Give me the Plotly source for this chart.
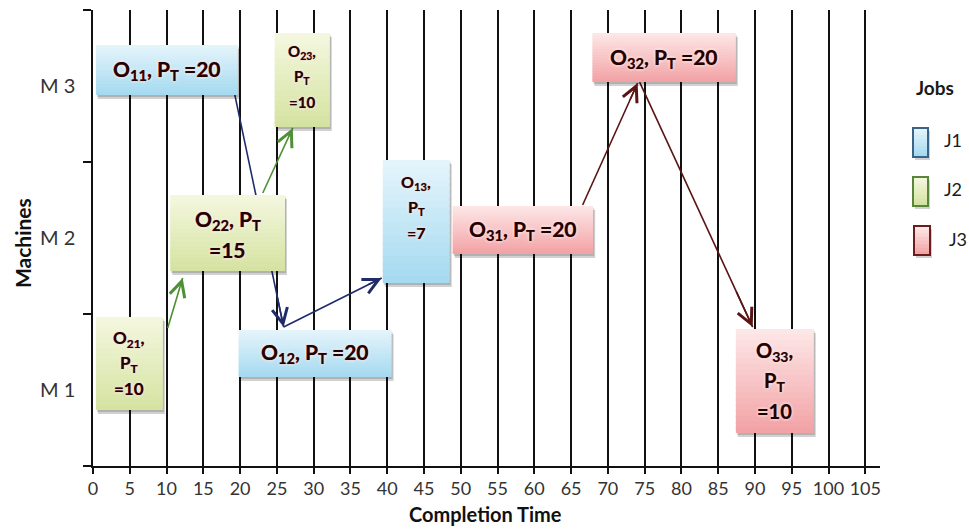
import plotly.graph_objects as go

# ---------------- data ----------------
ops = ["11", "12", "13", "21", "22", "23", "31", "32", "33"]
jobs = ["J1", "J1", "J1", "J2", "J2", "J2", "J3", "J3", "J3"]
machine = [3, 1, 2, 1, 2, 3, 2, 3, 1]
start = [0.4, 19.8, 39.4, 0.4, 10.5, 24.7, 48.9, 67.9, 87.4]
end = [19.7, 40.6, 48.5, 9.5, 26.1, 32.2, 68.0, 87.4, 98.0]
pt = [20, 20, 7, 10, 15, 10, 20, 20, 10]

# precedence arrows (tail -> head) in axis units
arrow_job = ["J2", "J2", "J1", "J1", "J3", "J3"]
arrow_x0 = [10.16, 23.08, 19.26, 25.92, 66.57, 74.32]
arrow_y0 = [0.908, 1.796, 2.447, 0.914, 1.717, 2.526]
arrow_x1 = [12.19, 27.16, 25.92, 39.25, 74.05, 89.69]
arrow_y1 = [1.237, 2.224, 0.914, 1.237, 2.520, 0.914]

x_ticks = list(range(0, 106, 5))
machine_labels = ["M 1", "M 2", "M 3"]
legend_jobs = ["J1", "J2", "J3"]

# ---------------- styling ----------------
FONT = "Lato"
box_top = [2.770, 0.895, 2.013, 0.980, 1.783, 2.849, 1.711, 2.849, 0.901]
box_bot = [2.441, 0.586, 1.204, 0.368, 1.283, 2.230, 1.395, 2.526, 0.217]
# (layout type, font size, line spacing px, vertical offset px)
txt_style = [(1, 21, 0, 0), (1, 21, 0, 0), (3, 16, 25, -14), (3, 17, 25, 0),
             (2, 21, 30, 2), (3, 15, 25, -3), (1, 21, 0, 0), (1, 21, 0, 0),
             (3, 20, 30, 0)]
grad = {"J1": ("#e4f4fb", "#a6daf0"), "J2": ("#f4f7de", "#d5e3a2"), "J3": ("#fde6e6", "#f2a3a6")}
border = {"J1": "#3a6588", "J2": "#57873a", "J3": "#6a1d1d"}
arrow_col = {"J1": "#1f2b6b", "J2": "#4f8f35", "J3": "#5a1414"}
TXT_COL = "#1e0303"
TXT_SHADOW = "0px 0px 1px #b83a3a, 0px 0px 3px #ffffff, 0px 0px 3px #ffffff"

L, R, T, B = 93, 89, 10, 63
W, H = 969, 529
PW, PH = W - L - R, H - T - B


def px_x(px):
    return (px - L) / PW


def px_y(py):
    return (H - B - py) / PH


def hex2rgb(h):
    h = h.lstrip("#")
    return tuple(int(h[i:i + 2], 16) for i in (0, 2, 4))


def lerp(c1, c2, t):
    a, b = hex2rgb(c1), hex2rgb(c2)
    return "rgb(%d,%d,%d)" % tuple(round(a[i] + (b[i] - a[i]) * t) for i in range(3))


def grad_rect(shapes, x0, x1, y0, y1, c_top, c_bot, xref="x", yref="y", n=18):
    for k in range(n):
        ya = y1 - (y1 - y0) * k / n
        yb = y1 - (y1 - y0) * (k + 1) / n
        yb2 = yb - (y1 - y0) * 0.02 if k < n - 1 else yb
        shapes.append(dict(type="rect", xref=xref, yref=yref, x0=x0, x1=x1, y0=yb2, y1=ya,
                           fillcolor=lerp(c_top, c_bot, k / (n - 1)), line=dict(width=0),
                           layer="above"))


fig = go.Figure()
shapes = []
annotations = []

# arrow lines (below boxes)
for i in range(len(arrow_job)):
    fig.add_trace(go.Scatter(x=[arrow_x0[i], arrow_x1[i]], y=[arrow_y0[i], arrow_y1[i]],
                             mode="lines", line=dict(color=arrow_col[arrow_job[i]], width=1.6),
                             hoverinfo="skip", showlegend=False))
    t = 0.85
    annotations.append(dict(x=arrow_x1[i], y=arrow_y1[i], xref="x", yref="y",
                            ax=arrow_x0[i] + (arrow_x1[i] - arrow_x0[i]) * t,
                            ay=arrow_y0[i] + (arrow_y1[i] - arrow_y0[i]) * t,
                            axref="x", ayref="y", text="", showarrow=True, arrowhead=5,
                            arrowsize=1.9, arrowwidth=1.6, arrowcolor=arrow_col[arrow_job[i]],
                            standoff=0))

# boxes
xu = 107 / PW
yu = 3 / PH
for i in range(len(ops)):
    x0, x1, y0, y1 = start[i], end[i], box_bot[i], box_top[i]
    shapes.append(dict(type="rect", xref="x", yref="y", x0=x0 + 2 * xu, x1=x1 + 2 * xu,
                       y0=y0 - 4 * yu, y1=y1 - 4 * yu, fillcolor="rgba(0,0,0,0.18)",
                       line=dict(width=0), layer="above"))
    shapes.append(dict(type="rect", xref="x", yref="y", x0=x0 + 1 * xu, x1=x1 + 1 * xu,
                       y0=y0 - 2 * yu, y1=y1 - 2 * yu, fillcolor="rgba(0,0,0,0.15)",
                       line=dict(width=0), layer="above"))
    c_top, c_bot = grad[jobs[i]]
    grad_rect(shapes, x0, x1, y0, y1, c_top, c_bot)

    kind, fs, sp, off = txt_style[i]
    o = "O<sub>%s</sub>" % ops[i]
    p = "P<sub>T</sub>"
    if kind == 1:
        lines = ["%s, %s =%d" % (o, p, pt[i])]
    elif kind == 2:
        lines = ["%s, %s" % (o, p), "=%d" % pt[i]]
    else:
        lines = ["%s," % o, p, "=%d" % pt[i]]
    n = len(lines)
    cx, cy = (x0 + x1) / 2, (y0 + y1) / 2
    for k, ln in enumerate(lines):
        annotations.append(dict(x=cx, y=cy, xref="x", yref="y", text="<b>%s</b>" % ln,
                                showarrow=False, xanchor="center", yanchor="middle",
                                yshift=-(off + (k - (n - 1) / 2) * sp),
                                font=dict(family=FONT, size=fs, color=TXT_COL,
                                          shadow=TXT_SHADOW)))

# legend
annotations.append(dict(x=px_x(935), y=px_y(88), xref="paper", yref="paper", text="<b>Jobs</b>",
                        showarrow=False, xanchor="center", yanchor="middle",
                        font=dict(family=FONT, size=19, color="#1a1a1a")))
leg_box = [(913, 928, 128, 157), (913, 928, 177, 206), (914, 930, 226, 255)]
leg_txt = [(953, 140), (953, 189), (958, 239)]
for j, job in enumerate(legend_jobs):
    bx0, bx1, by0, by1 = leg_box[j]
    c_top, c_bot = grad[job]
    shapes.append(dict(type="rect", xref="paper", yref="paper", x0=px_x(bx0 + 2), x1=px_x(bx1 + 2),
                       y0=px_y(by1 + 3), y1=px_y(by0 + 3), fillcolor="rgba(0,0,0,0.18)",
                       line=dict(width=0), layer="above"))
    grad_rect(shapes, px_x(bx0), px_x(bx1), px_y(by1), px_y(by0), c_top, c_bot,
              xref="paper", yref="paper", n=8)
    shapes.append(dict(type="rect", xref="paper", yref="paper", x0=px_x(bx0), x1=px_x(bx1),
                       y0=px_y(by1), y1=px_y(by0), fillcolor="rgba(0,0,0,0)",
                       line=dict(width=2, color=border[job]), layer="above"))
    tx, ty = leg_txt[j]
    annotations.append(dict(x=px_x(tx), y=px_y(ty), xref="paper", yref="paper", text=job,
                            showarrow=False, xanchor="center", yanchor="middle",
                            font=dict(family=FONT, size=18, color="#1a1a1a")))

# axis titles
annotations.append(dict(x=px_x(485), y=px_y(514), xref="paper", yref="paper",
                        text="<b>Completion Time</b>", showarrow=False, xanchor="center",
                        yanchor="middle", font=dict(family=FONT, size=20, color="#111")))
annotations.append(dict(x=px_x(22), y=px_y(243), xref="paper", yref="paper",
                        text="<b>Machines</b>", showarrow=False, xanchor="center",
                        yanchor="middle", textangle=-90,
                        font=dict(family=FONT, size=21, color="#111")))

fig.update_layout(
    width=W, height=H,
    margin=dict(l=L, r=R, t=T, b=B),
    paper_bgcolor="white", plot_bgcolor="white",
    showlegend=False,
    shapes=shapes, annotations=annotations,
    xaxis=dict(range=[0, 107], tickvals=x_ticks, ticktext=[str(v) for v in x_ticks],
               ticks="outside", ticklen=6, tickwidth=1.5, tickcolor="#111",
               showgrid=True, gridcolor="#111", gridwidth=1.5,
               showline=True, linecolor="#111", linewidth=1.5, zeroline=False,
               tickfont=dict(family=FONT, size=18, color="#333")),
    yaxis=dict(range=[0, 3], tickvals=[0.5, 1.5, 2.5], ticktext=machine_labels,
               ticks="", showgrid=False, zeroline=False,
               showline=True, linecolor="#111", linewidth=1.5,
               minor=dict(tickvals=[0, 1, 2, 3], ticks="outside", ticklen=8, tickwidth=1.5,
                          tickcolor="#111", showgrid=False),
               ticklabelstandoff=12,
               tickfont=dict(family=FONT, size=20, color="#333")),
)

fig.write_html("out.html", config={"displayModeBar": False},
               post_script="document.body.style.margin='0';document.body.style.padding='0';")
